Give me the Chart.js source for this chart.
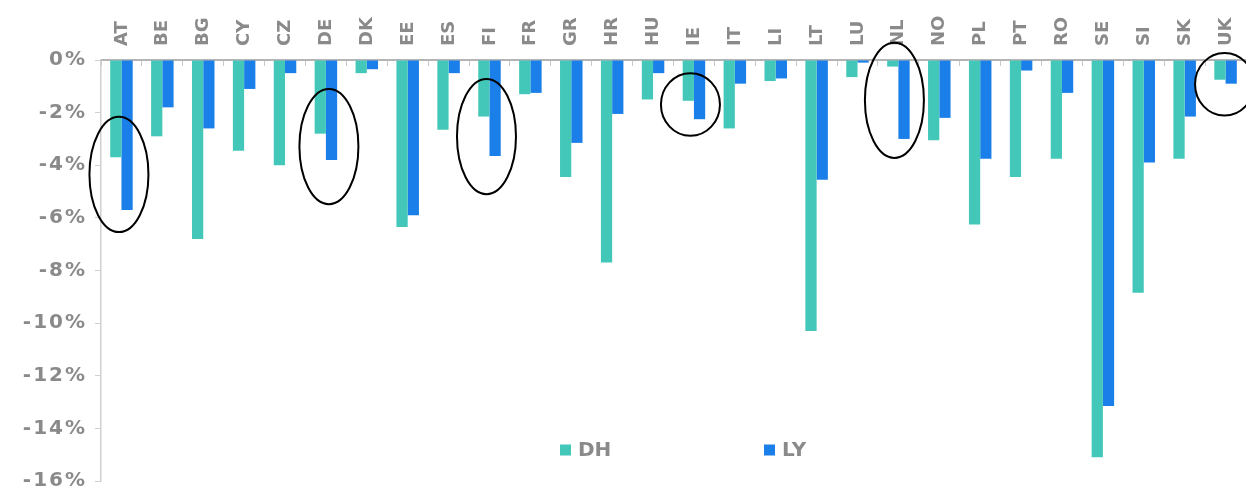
<!DOCTYPE html>
<html>
<head>
<meta charset="utf-8">
<script src="https://cdn.jsdelivr.net/npm/chart.js@4.4.1/dist/chart.umd.min.js"></script>
<style>
  html, body { margin: 0; padding: 0; background: #ffffff; }
  #wrap { position: relative; width: 1246px; height: 488px; }
</style>
</head>
<body>
<div id="wrap"><canvas id="chart"></canvas></div>
<script>
// Countries along the top axis
const countries = ['AT','BE','BG','CY','CZ','DE','DK','EE','ES','FI','FR','GR','HR','HU',
                   'IE','IT','LI','LT','LU','NL','NO','PL','PT','RO','SE','SI','SK','UK'];

// Change in % for each country
const dhValues = [-3.7, -2.9, -6.8, -3.45, -4.0, -2.8, -0.5, -6.35, -2.65, -2.15, -1.3, -4.45, -7.7, -1.5,
                  -1.55, -2.6, -0.8, -10.3, -0.65, -0.25, -3.05, -6.25, -4.45, -3.75, -15.1, -8.85, -3.75, -0.75];
const lyValues = [-5.7, -1.8, -2.6, -1.1, -0.5, -3.8, -0.35, -5.9, -0.5, -3.65, -1.25, -3.15, -2.05, -0.5,
                  -2.25, -0.9, -0.7, -4.55, -0.1, -3.0, -2.2, -3.75, -0.4, -1.25, -13.15, -3.9, -2.15, -0.9];

const seriesNames = ['DH', 'LY'];
const yTickValues = [0, -2, -4, -6, -8, -10, -12, -14, -16];

// Hand-drawn rings around selected countries: centre and half-height in %
const rings = [
  { country: 'AT', mid: -4.35, half: 2.19, dx: -2.5 },
  { country: 'DE', mid: -3.29, half: 2.19, dx: 3 },
  { country: 'FI', mid: -2.91, half: 2.19, dx: -3 },
  { country: 'IE', mid: -1.69, half: 1.19, dx: -3.5 },
  { country: 'NL', mid: -1.53, half: 2.19, dx: -4 },
  { country: 'UK', mid: -0.92, half: 1.19, dx: -1 }
];

const TEAL = '#43c7b9';
const BLUE = '#1a7fe8';
const GREY = '#8a8a8a';
const FONT = 'DejaVu Sans';

// Slightly wider tracking for the value axis labels (drawn after the bars)
const spacing = {
  id: 'spacing',
  afterDatasetsDraw(chart) { chart.ctx.letterSpacing = '2px'; },
  afterDraw(chart) { chart.ctx.letterSpacing = '0px'; }
};

// Rings and the legend inside the plot
const overlay = {
  id: 'overlay',
  afterDraw(chart) {
    const { ctx, chartArea, scales: { x, y } } = chart;
    ctx.save();
    ctx.letterSpacing = '0px';
    ctx.strokeStyle = '#000000';
    ctx.lineWidth = 2;
    rings.forEach(r => {
      const cx = x.getPixelForValue(countries.indexOf(r.country)) + r.dx;
      const cy = y.getPixelForValue(r.mid);
      const ry = Math.abs(y.getPixelForValue(r.mid + r.half) - cy);
      ctx.beginPath();
      ctx.ellipse(cx, cy, 29.5, ry, 0, 0, Math.PI * 2);
      ctx.stroke();
    });

    const ly = chartArea.bottom - 31;
    let lx = chartArea.left + 459;
    ctx.font = `bold 20px "${FONT}"`;
    ctx.textBaseline = 'middle';
    ctx.textAlign = 'left';
    chart.data.datasets.forEach(ds => {
      ctx.fillStyle = ds.backgroundColor;
      ctx.fillRect(lx, ly - 5.5, 11, 11);
      ctx.fillStyle = GREY;
      ctx.fillText(ds.label, lx + 18, ly + 1);
      lx += 204;
    });
    ctx.restore();
  }
};

new Chart(document.getElementById('chart'), {
  type: 'bar',
  data: {
    labels: countries,
    datasets: [
      { label: seriesNames[0], data: dhValues, backgroundColor: TEAL },
      { label: seriesNames[1], data: lyValues, backgroundColor: BLUE }
    ]
  },
  options: {
    responsive: true,
    maintainAspectRatio: false,
    animation: false,
    layout: { padding: { top: 0, bottom: 7, left: 0, right: 0 } },
    datasets: { bar: { categoryPercentage: 0.55, barPercentage: 1 } },
    plugins: { legend: { display: false }, tooltip: { enabled: false } },
    scales: {
      x: {
        position: 'top',
        grid: { display: true, drawOnChartArea: false, drawTicks: true, tickLength: -6, color: '#c8c8c8', offset: true },
        border: { display: true, color: '#b4b4b4', width: 2 },
        ticks: {
          autoSkip: false, minRotation: 90, maxRotation: 90, padding: 20, labelOffset: 22,
          color: GREY, font: { family: FONT, size: 18, weight: 'bold' }
        },
        afterFit(scale) { scale.height = 60; scale.paddingLeft = 0; scale.paddingRight = 0; }
      },
      y: {
        min: -16, max: 0,
        afterBuildTicks(scale) { scale.ticks = yTickValues.map(v => ({ value: v })); },
        grid: { display: true, drawOnChartArea: false, drawTicks: true, tickLength: 6, color: '#d0d0d0' },
        border: { display: true, color: '#d0d0d0', width: 1.5 },
        ticks: {
          z: 1, padding: 8, color: GREY,
          font: { family: FONT, size: 20, weight: 'bold' },
          callback: v => v + '%'
        },
        afterFit(scale) { scale.width = 101; scale.paddingTop = 0; scale.paddingBottom = 0; }
      }
    }
  },
  plugins: [spacing, overlay]
});
</script>
</body>
</html>
